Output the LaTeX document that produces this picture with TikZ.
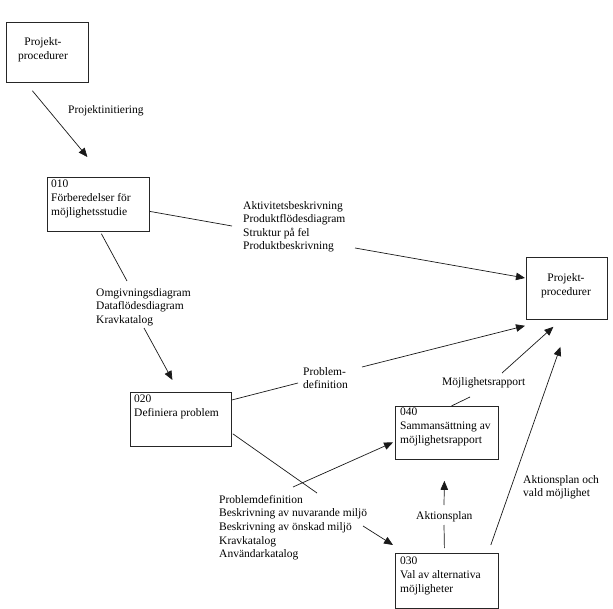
\documentclass[tikz,border=0pt]{standalone}
\usepackage{fontspec}
\setmainfont{Liberation Serif}
\usetikzlibrary{arrows.meta}
\begin{document}
\begin{tikzpicture}[x=1pt,y=-1pt,
  box/.style={draw=black!85, line width=0.8pt, inner sep=0pt, anchor=north west},
  txt/.style={inner sep=0pt, anchor=north west, align=left, font=\fontsize{11.5}{13.6}\selectfont},
  ctxt/.style={inner sep=0pt, align=center, font=\fontsize{11.5}{13.6}\selectfont},
  conn/.style={line width=0.7pt, black!90},
  arr/.style={conn, -{Triangle[length=9pt,width=7.5pt]}}
]
\useasboundingbox (0,0) rectangle (613,609);
% boxes
\node[box, minimum width=82pt, minimum height=60pt] (p1) at (6,22) {};
\node[ctxt] (tp1) at (43,50) {Projekt-\\procedurer};
\node[box, minimum width=102pt, minimum height=54pt] (b010) at (47,177) {};
\node[txt] (t010) at (51,180) {010\\Förberedelser för\\möjlighetsstudie};
\node[box, minimum width=81pt, minimum height=62pt] (p2) at (526,257) {};
\node[ctxt] (tp2) at (566,285.5) {Projekt-\\procedurer};
\node[box, minimum width=101pt, minimum height=54pt] (b020) at (130,392) {};
\node[txt] (t020) at (134,395) {020\\Definiera problem};
\node[box, minimum width=103pt, minimum height=53pt] (b040) at (395,406) {};
\node[txt] (t040) at (400,408) {040\\Sammansättning av\\möjlighetsrapport};
\node[box, minimum width=103pt, minimum height=55pt] (b030) at (395,553) {};
\node[txt] (t030) at (400,557) {030\\Val av alternativa\\möjligheter};
% labels
\node[txt] (lP) at (68,105) {Projektinitiering};
\node[txt] (lA) at (243,201) {Aktivitetsbeskrivning\\Produktflödesdiagram\\Struktur på fel\\Produktbeskrivning};
\node[txt] (lB) at (96,288) {Omgivningsdiagram\\Dataflödesdiagram\\Kravkatalog};
\node[txt] (lC) at (303,367) {Problem-\\definition};
\node[txt] (lM) at (442,377) {Möjlighetsrapport};
\node[txt] (lD) at (219,495) {Problemdefinition\\Beskrivning av nuvarande miljö\\Beskrivning av önskad miljö\\Kravkatalog\\Användarkatalog};
\node[txt] (lAk) at (416,511) {Aktionsplan};
\node[txt] (lAo) at (523,475) {Aktionsplan och\\vald möjlighet};
% connectors
\draw[arr] ([shift={(-15,8)}]p1.south) -- ([shift={(-11,-20)}]b010.north);
\draw[conn] ([shift={(0,7)}]b010.east) -- ([shift={(-11,25)}]lA.north west);
\draw[arr] ([shift={(112,47)}]lA.north west) -- ([shift={(-1,21)}]p2.north west);
\draw[conn] ([shift={(3,2)}]b010.south) -- ([shift={(31,-7)}]lB.north west);
\draw[arr] ([shift={(48,40)}]lB.north west) -- ([shift={(-8.5,-12)}]b020.north);
\draw[conn] ([shift={(0,8)}]b020.north east) -- ([shift={(-5,16)}]lC.north west);
\draw[arr] ([shift={(59,0)}]lC.north west) -- ([shift={(-1,6)}]p2.south west);
\draw[conn] ([shift={(4.5,0)}]b040.north) -- ([shift={(28,20)}]lM.north west);
\draw[arr] ([shift={(60,-4)}]lM.north west) -- ([shift={(-13.5,7)}]p2.south);
\draw[arr] ([shift={(-8,-8)}]b030.north east) -- ([shift={(-6.5,27)}]p2.south);
\draw[conn] ([shift={(-2.5,-5)}]b030.north) -- ([shift={(28,14)}]lAk.north west);
\draw[arr] ([shift={(28,-6)}]lAk.north west) -- ([shift={(-2.5,21)}]b040.south);
\draw[conn] ([shift={(1,-13)}]b020.south east) -- ([shift={(98,-2)}]lD.north west);
\draw[arr] ([shift={(144,31)}]lD.north west) -- ([shift={(-2,-8)}]b030.north west);
\draw[arr] ([shift={(74,-8)}]lD.north west) -- ([shift={(-2,9.5)}]b040.west);
\end{tikzpicture}
\end{document}
